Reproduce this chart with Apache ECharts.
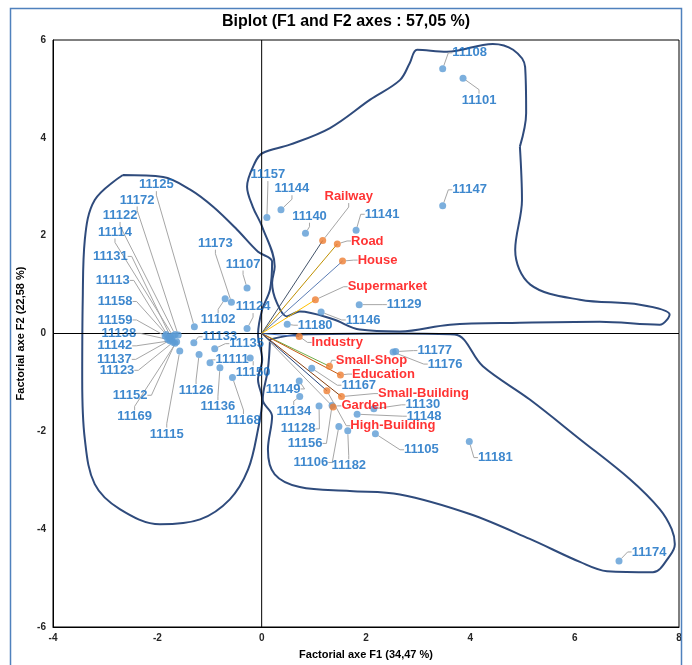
<!DOCTYPE html>
<html>
<head>
<meta charset="utf-8">
<script src="https://cdn.jsdelivr.net/npm/echarts@6/dist/echarts.min.js"></script>
<style>html,body{margin:0;padding:0;background:#fff}#c{width:692px;height:665px}</style>
</head>
<body>
<div id="c"></div>
<script>
// ---- Data ----
const obsNames = ['11108','11101','11147','11157','11144','11140','11141','11129','11146','11180',
  '11177','11176','11167','11149','11134','11128','11130','11148','11156','11106','11182','11105','11181','11174',
  '11125','11172','11122','11114','11131','11113','11158','11159','11138','11142','11137','11123','11152','11169','11115',
  '11102','11173','11107','11124','11133','11135','11150','11111','11136','11168','11126'];
const obsF1 = [3.47,3.86,3.47,0.10,0.37,0.84,1.81,1.87,1.14,0.49,
  2.57,2.52,0.96,0.72,0.73,1.10,2.15,1.83,1.35,1.48,1.65,2.18,3.98,6.85,
  -1.29,-1.60,-1.66,-1.70,-1.75,-1.78,-1.83,-1.85,-1.80,-1.76,-1.73,-1.70,-1.66,-1.63,-1.57,
  -0.70,-0.58,-0.28,-0.28,-1.30,-0.90,-0.22,-0.99,-0.80,-0.56,-1.20];
const obsF2 = [5.41,5.22,2.61,2.37,2.53,2.05,2.11,0.59,0.44,0.19,
  -0.37,-0.38,-0.71,-0.97,-1.29,-1.48,-1.54,-1.65,-1.47,-1.90,-1.99,-2.05,-2.21,-4.65,
  0.14,-0.03,-0.02,-0.05,-0.06,-0.08,-0.02,-0.05,-0.12,-0.15,-0.12,-0.18,-0.20,-0.17,-0.36,
  0.71,0.64,0.93,0.10,-0.19,-0.31,-0.50,-0.60,-0.70,-0.90,-0.43];

const varNames = ['Railway','Road','House','Supermarket','Industry','Small-Shop','Education','Small-Building','Garden','High-Building'];
const varF1 = [1.17,1.45,1.55,1.03,0.72,1.30,1.51,1.53,1.37,1.25];
const varF2 = [1.90,1.83,1.48,0.69,-0.06,-0.67,-0.85,-1.29,-1.50,-1.17];

const xTicks = [-4,-2,0,2,4,6,8];
const yTicks = [-6,-4,-2,0,2,4,6];

// hand-drawn group outlines (data space)
const groupUpper = [[4.95,3.82],[4.99,2.73],[4.86,1.71],[5.15,1.00],[6.10,0.69],[7.25,0.59],[7.82,0.39],[7.63,0.18],[6.48,0.24],[4.95,0.22],[3.61,0.18],[2.65,0.04],[1.88,0.08],[1.37,0.29],[0.73,0.45],[0.48,0.35],[0.29,0.63],[0.20,1.04],[0.25,1.37],[0.01,2.18],[-0.17,2.59],[-0.28,3.00],[-0.13,3.49],[0.02,3.69],[0.54,3.86],[1.31,4.20],[2.08,4.78],[2.65,5.18],[2.84,5.53],[2.98,5.80],[3.55,5.76],[4.43,5.92],[4.82,5.80],[5.05,5.45],[5.07,4.51],[4.95,3.82]];
const groupLeft = [[-2.66,3.24],[-1.89,3.20],[-1.37,2.94],[-0.93,2.59],[-0.47,2.12],[-0.07,1.67],[0.20,1.47],[0.16,0.90],[0.01,0.49],[-0.07,-0.02],[0.01,-0.53],[-0.07,-0.94],[0.01,-1.35],[-0.07,-1.96],[-0.26,-2.78],[-0.61,-3.39],[-1.18,-3.80],[-1.95,-3.90],[-2.72,-3.59],[-3.20,-3.08],[-3.39,-2.16],[-3.44,-0.94],[-3.43,0.69],[-3.39,1.92],[-3.20,2.73],[-2.66,3.24]];
const groupLower = [[0.16,-0.12],[0.73,-0.02],[2.65,0.00],[3.70,-0.02],[4.24,-0.67],[5.14,-1.35],[6.10,-2.16],[7.06,-2.98],[7.63,-3.59],[7.86,-4.00],[7.92,-4.31],[7.82,-4.55],[7.50,-4.88],[6.62,-4.86],[6.10,-4.67],[5.14,-4.20],[3.99,-3.69],[2.65,-3.29],[1.69,-3.22],[0.73,-3.14],[0.25,-2.88],[0.12,-2.37],[0.20,-1.69],[0.02,-1.35],[0.12,-0.73],[0.16,-0.12]];

// ---- Styles / label placement (pixel offsets of label centre from its point) ----
const labelOffsets = {
  '11172':[-41,-135],'11122':[-55,-119],'11114':[-58,-104],'11131':[-60,-80],'11113':[-56,-57],
  '11158':[-51,-33],'11159':[-50,-16],'11138':[-49,-6],'11142':[-55,5],'11137':[-57,20],'11123':[-56,28],
  '11152':[-45,52],'11169':[-42,75],'11115':[-13,83],'11125':[-38,-142],'11102':[-7,21],'11173':[-16,-59],
  '11107':[-4,-24],'11124':[6,-22],'11133':[26,-6],'11135':[32,-5],'11150':[3,14],'11111':[22,-3],
  '11136':[-2,39],'11168':[11,43],'11126':[-3,36],
  '11108':[27,-16],'11101':[16,22],'11147':[27,-16],'11157':[1,-43],'11144':[11,-21],'11140':[4,-17],
  '11141':[26,-16],'11129':[45,0],'11146':[42,8],'11180':[28,1],
  '11177':[39,-1],'11176':[52,12],'11167':[47,17],'11149':[-16,8],'11134':[-6,15],'11128':[-21,23],
  '11130':[49,-4],'11148':[67,2],'11156':[-27,38],'11106':[-28,36],'11182':[1,35],'11105':[46,16],
  '11181':[26,16],'11174':[30,-9],
  'Railway':[26,-44],'Road':[30,-3],'House':[35,-1],'Supermarket':[72,-13],'Industry':[38,6],
  'Small-Shop':[42,-6],'Education':[43,-1],'Small-Building':[82,-3],'Garden':[31,-1],'High-Building':[66,35]
};
const vecColors = ['#44546A','#BF9000','#5B7DB5','#FFC000','#4472C4','#70AD47','#C55A11','#843C0C','#A5A5A5','#264478'];
const FONT = 'Liberation Sans';

const chart = echarts.init(document.getElementById('c'), null, {renderer:'canvas'});

const series = [];
[groupUpper, groupLeft, groupLower].forEach(g => series.push({
  type:'line', data:g, smooth:0.35, symbol:'none', silent:true, z:1,
  lineStyle:{color:'#2F4B7C', width:2}
}));
series.push({type:'line', data:[[0,-6],[0,6]], symbol:'none', silent:true, z:2, lineStyle:{color:'#000', width:1}});
series.push({type:'line', data:[[-4,0],[8,0]], symbol:'none', silent:true, z:2, lineStyle:{color:'#000', width:1}});
varNames.forEach((n,i) => series.push({
  type:'line', data:[[0,0],[varF1[i],varF2[i]]], symbol:'none', silent:true, z:3,
  lineStyle:{color:vecColors[i], width:1}
}));
const layoutFn = p => { const o = labelOffsets[p.text] || [0,0]; return {dx:o[0], dy:o[1]}; };
series.push({
  type:'scatter', z:5, symbolSize:7,
  data: obsNames.map((n,i)=>({name:n, value:[obsF1[i], obsF2[i]]})),
  itemStyle:{color:'#5B9BD5'},
  label:{show:true, position:'inside', formatter:'{b}', color:'#0E6AC2', fontFamily:FONT, fontWeight:'bold', fontSize:13},
  labelLine:{show:true, length2:4, lineStyle:{color:'#A6A6A6', width:1}},
  labelLayout: layoutFn
});
series.push({
  type:'scatter', z:6, symbolSize:7,
  data: varNames.map((n,i)=>({name:n, value:[varF1[i], varF2[i]]})),
  itemStyle:{color:'#ED7D31'},
  label:{show:true, position:'inside', formatter:'{b}', color:'#FF0000', fontFamily:FONT, fontWeight:'bold', fontSize:13},
  labelLine:{show:true, length2:4, lineStyle:{color:'#A6A6A6', width:1}},
  labelLayout: layoutFn
});

chart.setOption({
  animation:false,
  backgroundColor:'#fff',
  title:{text:'Biplot (F1 and F2 axes : 57,05 %)', left:'center', top:9,
    textStyle:{fontFamily:FONT, fontWeight:'bold', fontSize:16, color:'#000'}},
  graphic:[{type:'rect', shape:{x:10.5, y:8.5, width:671, height:680}, style:{fill:null, stroke:'#4F81BD', lineWidth:1.5}, silent:true, z:100}],
  grid:{left:53, right:13, top:40, bottom:37, show:true, borderColor:'#000', borderWidth:1},
  xAxis:{type:'value', min:xTicks[0], max:xTicks[xTicks.length-1], interval:2,
    name:'Factorial axe F1 (34,47 %)', nameLocation:'middle', nameGap:22,
    nameTextStyle:{fontFamily:FONT, fontWeight:'bold', fontSize:11, color:'#000'},
    axisLine:{show:true, onZero:false, lineStyle:{color:'#000'}}, axisTick:{show:false}, splitLine:{show:false},
    axisLabel:{fontFamily:FONT, fontWeight:'bold', fontSize:10, color:'#262626', margin:6}},
  yAxis:{type:'value', min:yTicks[0], max:yTicks[yTicks.length-1], interval:2,
    name:'Factorial axe F2 (22,58 %)', nameLocation:'middle', nameGap:26,
    nameTextStyle:{fontFamily:FONT, fontWeight:'bold', fontSize:11, color:'#000'},
    axisLine:{show:true, onZero:false, lineStyle:{color:'#000'}}, axisTick:{show:false}, splitLine:{show:false},
    axisLabel:{fontFamily:FONT, fontWeight:'bold', fontSize:10, color:'#262626', margin:7}},
  series: series
});
</script>
</body>
</html>
